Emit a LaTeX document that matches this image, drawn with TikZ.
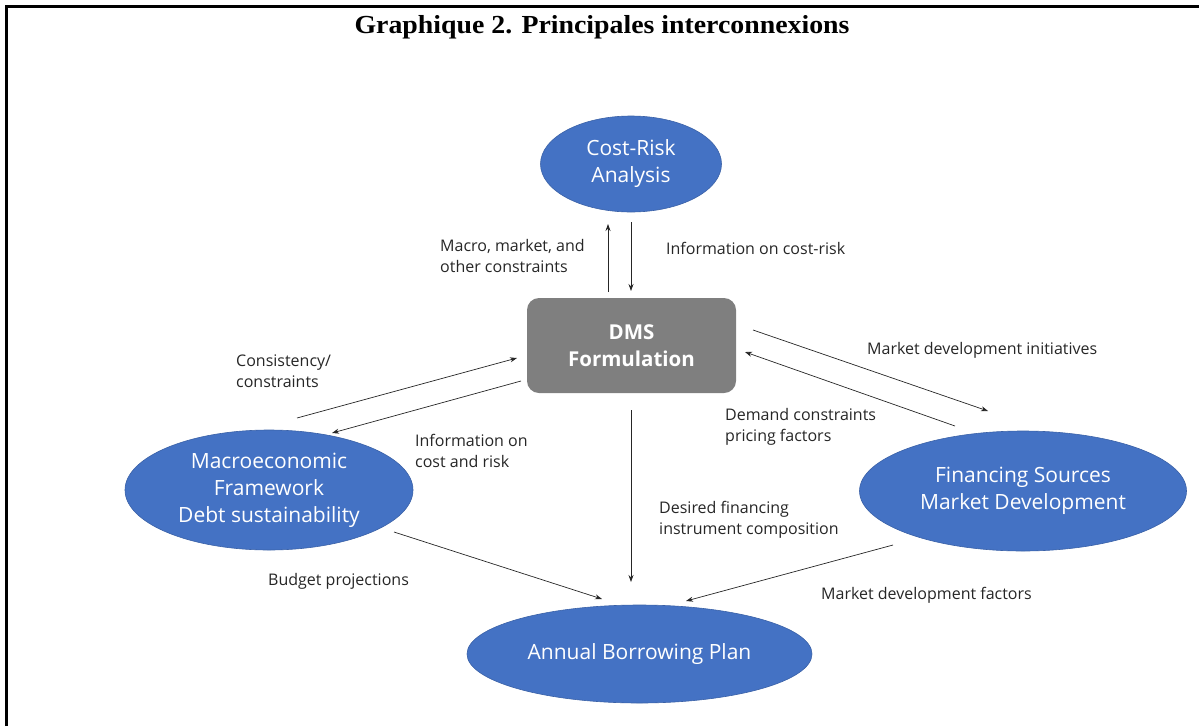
\documentclass[tikz,border=0pt]{standalone}
\usepackage{fontspec}
\setmainfont{Open Sans}
\newfontfamily\titlefont{Liberation Serif}
\usetikzlibrary{shapes.geometric,arrows.meta}
\definecolor{ovalblue}{HTML}{4472C4}
\definecolor{boxgray}{HTML}{7F7F7F}
\definecolor{labelgray}{HTML}{262626}
\tikzset{
  oval/.style={ellipse, fill=ovalblue, draw=ovalblue!85!black, line width=0.6pt,
    text=white, align=center, inner sep=0pt, font=\fontsize{21}{27}\selectfont},
  dmsbox/.style={rectangle, rounded corners=12pt, fill=boxgray, text=white, align=center,
    inner sep=0pt, minimum width=209pt, minimum height=95pt,
    font=\bfseries\fontsize{20.5}{27}\selectfont},
  lbl/.style={anchor=west, align=left, text=labelgray, inner sep=0pt,
    font=\fontsize{16}{21}\selectfont},
  link/.style={-{Stealth[length=7pt,width=5pt]}, line width=0.7pt, draw=labelgray}
}
\begin{document}
\begin{tikzpicture}[x=1pt, y=-1pt]
    \useasboundingbox (0,0) rectangle (1199,726);
    \draw[line width=3pt] (6.5,726) -- (6.5,6.5) -- (1199,6.5);
    \node[font=\titlefont\bfseries\fontsize{26}{26}\selectfont, xscale=1.07] (title) at (602,27) {Graphique 2. Principales interconnexions};

    \node[oval, minimum width=181pt, minimum height=96pt] (costrisk) at (631,164) {Cost-Risk\\Analysis};
    \node[dmsbox] (dms) at (631.5,345.5) {DMS\\Formulation};
    \node[oval, minimum width=288pt, minimum height=120pt] (macro) at (269,490) {Macroeconomic\\Framework\\Debt sustainability};
    \node[oval, minimum width=327pt, minimum height=120pt] (financing) at (1023,491) {Financing Sources\\Market Development};
    \node[oval, minimum width=345pt, minimum height=98pt] (abp) at (639.5,654) {Annual Borrowing Plan};

    \coordinate (crOut) at (608,292);  \coordinate (crIn) at (608,224);
    \coordinate (crBack) at (631,222); \coordinate (dmsTop) at (631,291);
    \coordinate (mcOut) at (297,418);  \coordinate (mcIn) at (517,358);
    \coordinate (dmsLeft) at (521,381); \coordinate (mcTop) at (332,433);
    \coordinate (dmsRight) at (753,330); \coordinate (fsTop) at (988,411);
    \coordinate (fsOut) at (955,426);  \coordinate (dmsIn) at (745,352);
    \coordinate (dmsBot) at (631,410); \coordinate (abpTop) at (631,582);
    \coordinate (mcBot) at (394,532);  \coordinate (abpLeft) at (602,599);
    \coordinate (fsBot) at (893,545);  \coordinate (abpRight) at (686,601);

    \draw[link] (crOut) -- (crIn);
    \draw[link] (crBack) -- (dmsTop);
    \draw[link] (mcOut) -- (mcIn);
    \draw[link] (dmsLeft) -- (mcTop);
    \draw[link] (dmsRight) -- (fsTop);
    \draw[link] (fsOut) -- (dmsIn);
    \draw[link] (dmsBot) -- (abpTop);
    \draw[link] (mcBot) -- (abpLeft);
    \draw[link] (fsBot) -- (abpRight);

    \node[lbl] (lconstr) at (440,256) {Macro, market, and\\other constraints};
    \node[lbl] (linfocr) at (666,248) {Information on cost-risk};
    \node[lbl] (lconsist) at (236,371) {Consistency/\\constraints};
    \node[lbl] (linfocost) at (415,451) {Information on\\cost and risk};
    \node[lbl] (linit) at (867,350) {Market development initiatives};
    \node[lbl] (ldemand) at (725,427) {Demand constraints\\pricing factors};
    \node[lbl] (ldesired) at (659,520) {Desired financing\\instrument composition};
    \node[lbl] (lbudget) at (268,581) {Budget projections};
    \node[lbl] (lfactors) at (821,595) {Market development factors};
\end{tikzpicture}
\end{document}
